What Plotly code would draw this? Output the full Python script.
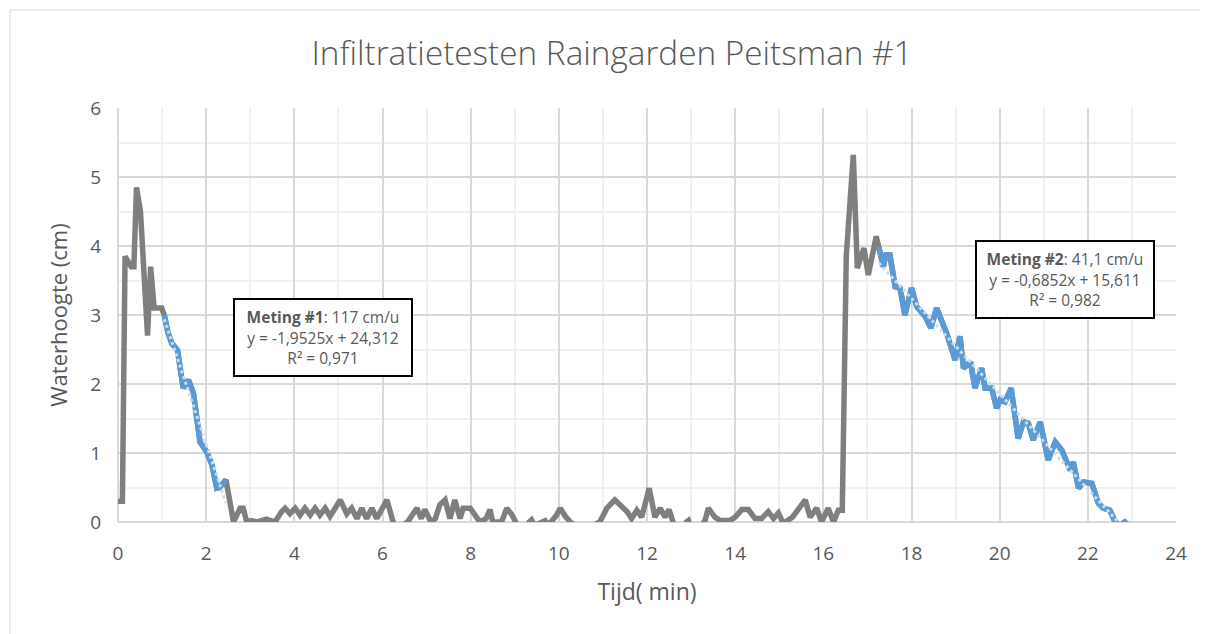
import numpy as np
import plotly.graph_objects as go

# ---- data (time in minutes, water height in cm) ----
start_time = [0.0, 0.10, 0.16, 0.30, 0.36, 0.42, 0.51, 0.67, 0.74, 0.82, 0.99]
start_height = [0.3, 0.3, 3.85, 3.7, 3.7, 4.85, 4.5, 2.7, 3.7, 3.1, 3.1]

meting1_time = [1.05, 1.13, 1.22, 1.35, 1.48, 1.60, 1.71, 1.86, 2.01, 2.13, 2.24, 2.30, 2.45]
meting1_height = [3.0, 2.75, 2.59, 2.49, 1.94, 2.06, 1.87, 1.16, 1.02, 0.83, 0.49, 0.5, 0.61]

rest_time = [2.62, 2.77, 2.84, 2.92, 3.03, 3.15, 3.37, 3.56, 3.71, 3.79, 3.90, 4.02, 4.13,
             4.24, 4.36, 4.47, 4.58, 4.70, 4.81, 5.04, 5.19, 5.30, 5.42, 5.53, 5.64, 5.76,
             5.87, 6.10, 6.25, 6.40, 6.59, 6.78, 6.88, 6.96, 7.10, 7.20, 7.30, 7.42, 7.53,
             7.64, 7.76, 7.83, 7.99, 8.21, 8.35, 8.44, 8.50, 8.70, 8.82, 8.92, 9.04, 9.20,
             9.33, 9.38, 9.45, 9.62, 9.69, 9.76, 9.95, 10.03, 10.15, 10.29, 10.60, 10.93,
             11.09, 11.27, 11.46, 11.55, 11.65, 11.77, 11.88, 12.05, 12.18, 12.30, 12.41,
             12.50, 12.60, 12.80, 12.90, 12.94, 12.98, 13.20, 13.32, 13.39, 13.54, 13.66,
             13.88, 14.00, 14.15, 14.30, 14.45, 14.60, 14.75, 14.87, 14.98, 15.09, 15.30,
             15.59, 15.70, 15.85, 15.96, 16.11, 16.23, 16.34, 16.43, 16.52, 16.68, 16.77,
             16.92, 17.02, 17.20]
rest_height = [0.0, 0.2, 0.2, 0.0, 0.02, 0.0, 0.04, 0.0, 0.15, 0.2, 0.12, 0.2, 0.1,
               0.2, 0.1, 0.2, 0.1, 0.2, 0.08, 0.32, 0.12, 0.2, 0.05, 0.2, 0.05, 0.2,
               0.05, 0.32, -0.02, -0.1, 0.02, 0.2, 0.05, 0.18, 0.0, 0.05, 0.25, 0.32, 0.05,
               0.32, 0.05, 0.2, 0.2, 0.0, 0.05, 0.18, 0.0, 0.0, 0.2, 0.12, -0.02, -0.1,
               0.0, 0.03, -0.05, 0.0, 0.02, -0.05, 0.1, 0.2, 0.08, -0.02, -0.1, 0.0,
               0.2, 0.32, 0.2, 0.15, 0.05, 0.17, 0.07, 0.49, 0.07, 0.2, 0.07,
               0.18, -0.02, -0.1, 0.0, 0.02, -0.05, -0.1, 0.03, 0.2, 0.07, 0.02,
               0.02, 0.07, 0.18, 0.18, 0.05, 0.05, 0.15, 0.05, 0.13, -0.02, 0.07,
               0.32, 0.07, 0.2, 0.0, 0.2, 0.0, 0.17, 0.17, 3.85, 5.32, 3.68,
               3.97, 3.58, 4.14]

meting2_time = [17.26, 17.36, 17.42, 17.51, 17.63, 17.74, 17.85, 18.00, 18.12, 18.31, 18.44,
                18.57, 18.80, 18.99, 19.10, 19.18, 19.34, 19.44, 19.59, 19.67, 19.82, 19.93,
                20.01, 20.12, 20.26, 20.42, 20.54, 20.65, 20.76, 20.92, 21.10, 21.26, 21.41,
                21.60, 21.67, 21.79, 21.90, 22.09, 22.24, 22.35, 22.50, 22.62, 22.73, 22.84,
                22.92]
meting2_height = [3.99, 3.7, 3.87, 3.87, 3.41, 3.39, 3.0, 3.39, 3.12, 2.98, 2.81,
                  3.1, 2.73, 2.35, 2.69, 2.23, 2.32, 1.94, 2.23, 1.94, 1.94, 1.65,
                  1.77, 1.74, 1.94, 1.21, 1.45, 1.43, 1.19, 1.45, 0.9, 1.16, 1.04,
                  0.75, 0.87, 0.49, 0.58, 0.56, 0.27, 0.2, 0.17, 0.0, -0.05, 0.0,
                  -0.05]

x_ticks = [0, 2, 4, 6, 8, 10, 12, 14, 16, 18, 20, 22, 24]
y_ticks = [0, 1, 2, 3, 4, 5, 6]

title_text = "Infiltratietesten Raingarden Peitsman #1"
x_title = "Tijd( min)"
y_title = "Waterhoogte (cm)"
label1 = "<b>Meting #1</b>: 117 cm/u<br>y = -1,9525x + 24,312<br>R² = 0,971"
label2 = "<b>Meting #2</b>: 41,1 cm/u<br>y = -0,6852x + 15,611<br>R² = 0,982"

# ---- build ----
all_time = start_time + meting1_time + rest_time + meting2_time
all_height = start_height + meting1_height + rest_height + meting2_height

GRAY = "#7F7F7F"
BLUE = "#5B9BD5"
TREND = "#C9DDF1"
TXT = "#595959"
FONT = "Open Sans"

fig = go.Figure()
fig.add_trace(go.Scatter(x=all_time, y=all_height, mode="lines",
                         line=dict(color=GRAY, width=5.5), name="Waterhoogte",
                         hoverinfo="x+y"))
for t, h in [(meting1_time, meting1_height), (meting2_time, meting2_height)]:
    fig.add_trace(go.Scatter(x=t, y=h, mode="lines", line=dict(color=BLUE, width=5.5),
                             hoverinfo="x+y"))
for t, h in [(meting1_time, meting1_height), (meting2_time, meting2_height)]:
    a, b = np.polyfit(t, h, 1)
    tx = [t[0], t[-1]]
    fig.add_trace(go.Scatter(x=tx, y=[a * v + b for v in tx], mode="lines",
                             line=dict(color=TREND, width=3, dash="dot"),
                             hoverinfo="skip"))

for (ax, ay, txt) in [(4.65, 2.68, label1), (21.48, 3.52, label2)]:
    fig.add_annotation(x=ax, y=ay, xref="x", yref="y", text=txt, showarrow=False,
                       font=dict(family=FONT, size=15.5, color=TXT), align="center",
                       bgcolor="white", bordercolor="black", borderwidth=2, borderpad=2,
                       width=172, height=71)

# outer chart frame (left & top edges visible)
fig.add_shape(type="line", xref="paper", yref="paper", x0=-0.1021, x1=-0.1021,
              y0=-0.3, y1=1.2367, line=dict(color="#D9D9D9", width=1))
fig.add_shape(type="line", xref="paper", yref="paper", x0=-0.1021, x1=1.1,
              y0=1.2367, y1=1.2367, line=dict(color="#D9D9D9", width=1))

fig.update_layout(
    width=1208, height=634,
    margin=dict(l=110, r=40, t=100, b=120),
    paper_bgcolor="white", plot_bgcolor="white",
    showlegend=False,
    title=dict(text=title_text, x=0.5, xref="container", xanchor="center",
               y=1 - 45 / 634, yanchor="middle",
               font=dict(family=FONT, size=33.3, color=TXT, weight=300)),
    font=dict(family=FONT, color=TXT),
)
fig.update_xaxes(range=[0, 24], tickvals=x_ticks, showline=False,
                 showgrid=True, gridcolor="#D9D9D9", gridwidth=1.5,
                 zeroline=True, zerolinecolor="#D9D9D9", zerolinewidth=1.5,
                 minor=dict(dtick=1, showgrid=True, gridcolor="#F0F0F0", gridwidth=1.5),
                 ticks="outside", ticklen=14, tickcolor="rgba(0,0,0,0)",
                 tickfont=dict(family=FONT, size=19, color=TXT),
                 title=dict(text=x_title, font=dict(family=FONT, size=23, color=TXT), standoff=19))
fig.update_yaxes(range=[0, 6], tickvals=y_ticks, showline=False,
                 showgrid=True, gridcolor="#D9D9D9", gridwidth=1.5,
                 zeroline=True, zerolinecolor="#D9D9D9", zerolinewidth=1.5,
                 minor=dict(dtick=0.5, showgrid=True, gridcolor="#F0F0F0", gridwidth=1.5),
                 ticks="outside", ticklen=12, tickcolor="rgba(0,0,0,0)",
                 tickfont=dict(family=FONT, size=19, color=TXT),
                 title=dict(text=y_title, font=dict(family=FONT, size=22, color=TXT), standoff=16))

fig.write_html("out.html")
